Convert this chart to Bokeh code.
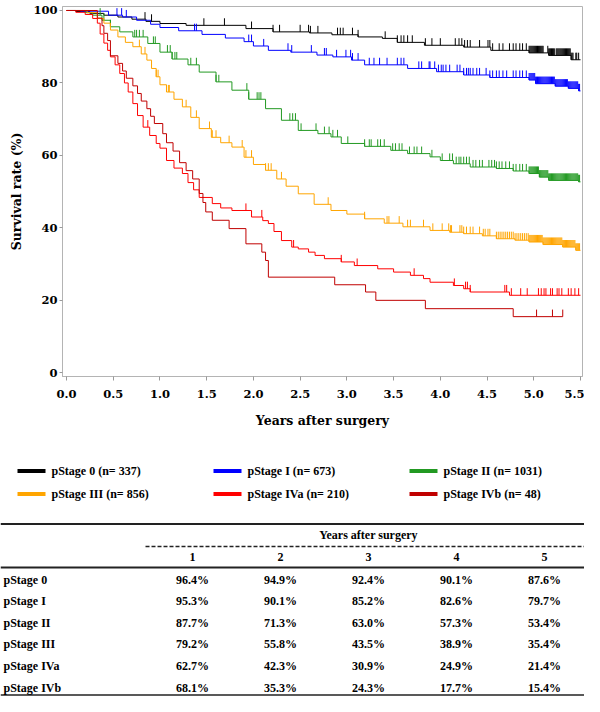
import numpy as np
from bokeh.plotting import figure
from bokeh.models import Range1d, FixedTicker, PrintfTickFormatter
from bokeh.layouts import column
from bokeh.embed import file_html
from bokeh.resources import INLINE
from bokeh.core.properties import value

# ---------------- data ----------------
stages = ["pStage 0", "pStage I", "pStage II", "pStage III", "pStage IVa", "pStage IVb"]
n_patients = [337, 673, 1031, 856, 210, 48]
colors = ["#000000", "#0000FF", "#229922", "#FFA500", "#FF0000", "#C00000"]

# Kaplan-Meier step points (time in years, survival %)
t_s0 = [0.00, 0.10, 0.25, 0.40, 0.55, 0.70, 0.85, 1.00, 1.28, 1.92, 2.21, 2.60, 2.84, 3.12, 3.38, 3.54, 3.83, 4.25, 4.54, 4.95, 5.16, 5.40, 5.50]
s_s0 = [100.0, 99.7, 99.2, 98.7, 98.2, 97.6, 97.0, 96.4, 95.9, 95.0, 94.1, 93.8, 93.3, 92.7, 92.3, 91.2, 90.4, 89.9, 89.0, 88.3, 87.6, 86.4, 86.4]

t_s1 = [0.00, 0.15, 0.45, 0.60, 0.75, 0.90, 1.00, 1.20, 1.45, 1.70, 1.90, 2.00, 2.16, 2.40, 2.68, 2.85, 3.05, 3.19, 3.65, 3.96, 4.25, 4.53, 4.95, 5.02, 5.23, 5.37, 5.48, 5.50]
s_s1 = [100.0, 99.8, 98.7, 98.2, 97.3, 96.2, 95.3, 94.4, 93.4, 92.4, 91.4, 90.2, 89.0, 88.5, 87.7, 87.2, 86.3, 85.0, 84.0, 83.1, 82.2, 81.5, 80.8, 79.8, 79.1, 78.5, 77.8, 77.8]

t_s2 = [0.00, 0.20, 0.28, 0.38, 0.47, 0.57, 0.71, 0.87, 1.00, 1.13, 1.30, 1.42, 1.60, 1.77, 1.95, 2.13, 2.30, 2.48, 2.69, 2.83, 2.94, 3.19, 3.47, 3.65, 3.89, 4.00, 4.14, 4.32, 4.60, 4.78, 4.95, 5.06, 5.16, 5.48, 5.50]
s_s2 = [100.0, 99.4, 98.7, 97.3, 95.5, 94.1, 92.7, 90.9, 88.5, 86.6, 85.0, 83.0, 80.3, 78.0, 75.5, 72.9, 69.7, 66.9, 66.0, 65.1, 63.3, 62.5, 61.4, 60.5, 59.6, 58.6, 57.7, 56.8, 56.4, 55.7, 55.0, 54.0, 53.1, 52.7, 52.7]

t_s3 = [0.00, 0.22, 0.33, 0.40, 0.47, 0.55, 0.63, 0.71, 0.80, 0.86, 0.91, 0.96, 1.00, 1.07, 1.15, 1.24, 1.33, 1.42, 1.55, 1.65, 1.77, 1.90, 2.00, 2.13, 2.25, 2.35, 2.48, 2.65, 2.83, 3.00, 3.19, 3.40, 3.60, 3.89, 4.10, 4.25, 4.45, 4.60, 4.80, 4.95, 5.10, 5.31, 5.45, 5.50]
s_s3 = [100.0, 99.4, 97.8, 96.5, 94.6, 92.7, 91.2, 90.0, 88.0, 86.3, 84.0, 81.7, 79.5, 77.5, 75.5, 73.4, 70.5, 67.4, 65.0, 63.5, 62.3, 59.5, 57.5, 55.9, 53.5, 51.5, 49.4, 46.5, 44.8, 43.8, 42.5, 41.3, 40.3, 39.3, 38.8, 38.4, 37.8, 37.0, 36.6, 36.1, 35.4, 34.7, 33.8, 33.8]

t_s4a = [0.00, 0.10, 0.20, 0.28, 0.33, 0.36, 0.40, 0.44, 0.47, 0.52, 0.57, 0.62, 0.66, 0.71, 0.76, 0.82, 0.89, 0.96, 1.00, 1.07, 1.15, 1.24, 1.30, 1.36, 1.42, 1.56, 1.65, 1.77, 1.98, 2.10, 2.16, 2.22, 2.30, 2.41, 2.48, 2.59, 2.66, 2.76, 2.94, 3.08, 3.33, 3.50, 3.68, 3.82, 3.89, 4.14, 4.25, 4.32, 4.74, 5.50]
s_s4a = [100.0, 99.5, 98.9, 97.8, 96.5, 93.5, 91.0, 89.0, 87.2, 85.0, 82.6, 80.0, 77.5, 74.3, 71.0, 67.8, 65.5, 63.3, 62.0, 58.6, 56.5, 55.0, 52.5, 50.5, 48.4, 46.7, 45.5, 44.8, 43.0, 42.0, 41.2, 39.0, 36.5, 34.7, 34.2, 33.3, 32.4, 31.5, 30.6, 29.6, 28.7, 27.8, 26.9, 26.0, 25.0, 24.1, 23.2, 22.3, 21.4, 21.4]

t_s4b = [0.00, 0.33, 0.38, 0.40, 0.44, 0.47, 0.55, 0.60, 0.64, 0.71, 0.76, 0.80, 0.86, 0.90, 0.94, 1.03, 1.07, 1.14, 1.21, 1.28, 1.35, 1.42, 1.46, 1.49, 1.56, 1.74, 1.92, 2.09, 2.13, 2.16, 2.87, 3.20, 3.31, 3.84, 4.78, 5.31]
s_s4b = [100.0, 97.9, 95.8, 93.7, 91.7, 87.5, 85.4, 83.3, 81.3, 79.2, 77.1, 75.0, 72.9, 70.8, 68.8, 66.0, 63.5, 61.2, 58.0, 55.8, 53.5, 49.5, 47.0, 44.4, 42.1, 39.8, 35.6, 33.3, 31.0, 26.4, 24.3, 22.3, 20.0, 17.7, 15.5, 15.5]

# censoring times (years)
c_s0 = [0.84, 0.91, 1.47, 1.69, 1.98, 2.21, 2.28, 2.50, 2.59, 2.61, 2.69, 2.90, 2.93, 2.96, 3.06, 3.12, 3.41, 3.54, 3.58, 3.61, 3.65, 3.70, 3.84, 3.91, 4.00, 4.16, 4.20, 4.23, 4.26, 4.29, 4.32, 4.42, 4.51, 4.53, 4.56, 4.63, 4.67, 4.74, 4.78, 4.81, 4.85, 4.88, 4.92,
        4.95, 4.96, 4.97, 4.98, 4.99, 5.00, 5.01, 5.02, 5.03, 5.04, 5.05, 5.06, 5.07, 5.08, 5.09, 5.10,
        5.15, 5.16, 5.17, 5.18, 5.19, 5.20, 5.21, 5.22, 5.24, 5.25, 5.26, 5.27, 5.28, 5.29, 5.30, 5.31, 5.32, 5.33, 5.34, 5.35, 5.36, 5.37, 5.38, 5.39, 5.40, 5.41, 5.42, 5.45, 5.46, 5.48]
c_s1 = [0.54, 0.59, 0.64, 1.37, 1.39, 1.95, 1.98, 2.11, 2.37, 2.41, 2.62, 2.76, 2.78, 2.89, 2.99, 3.04, 3.06, 3.12, 3.24, 3.29, 3.35, 3.43, 3.54, 3.58, 3.61, 3.77, 3.80, 3.88, 3.89, 3.94, 3.98, 4.01, 4.03, 4.06, 4.10, 4.18, 4.21, 4.25, 4.28, 4.30, 4.32, 4.35, 4.39, 4.42, 4.49, 4.53, 4.56, 4.60, 4.63, 4.67, 4.71, 4.78, 4.81, 4.85, 4.88, 4.92,
        4.95, 4.96, 4.97, 4.98, 4.99, 5.00, 5.01, 5.02, 5.03, 5.04, 5.05, 5.06, 5.07, 5.08, 5.09, 5.10, 5.11, 5.12, 5.13, 5.14, 5.15, 5.16, 5.17, 5.18, 5.19, 5.20, 5.21, 5.22, 5.23, 5.24, 5.25, 5.26, 5.27, 5.28, 5.29, 5.30, 5.31, 5.32, 5.33, 5.34, 5.35, 5.36, 5.37, 5.38, 5.39, 5.40, 5.41, 5.42, 5.43, 5.44, 5.45, 5.46, 5.47, 5.48, 5.49]
c_s2 = [0.36, 0.40, 0.47, 0.73, 0.75, 0.78, 0.82, 0.93, 0.95, 1.08, 1.11, 1.13, 1.16, 1.18, 1.33, 1.39, 1.60, 1.63, 1.93, 1.95, 2.04, 2.06, 2.08, 2.39, 2.42, 2.45, 2.51, 2.67, 2.76, 2.81, 2.85, 2.90, 3.01, 3.19, 3.24, 3.26, 3.33, 3.36, 3.40, 3.49, 3.52, 3.56, 3.59, 3.67, 3.72, 3.75, 3.80, 3.91, 4.02, 4.10, 4.13, 4.17, 4.20, 4.22, 4.25, 4.28, 4.31, 4.35, 4.38, 4.42, 4.45, 4.52, 4.55, 4.58, 4.60, 4.63, 4.66, 4.70, 4.74, 4.78, 4.81, 4.85, 4.88, 4.92,
        4.95, 4.96, 4.97, 4.98, 4.99, 5.00, 5.01, 5.02, 5.03, 5.04, 5.05, 5.06, 5.07, 5.08, 5.09, 5.10, 5.11, 5.12, 5.13, 5.14, 5.15, 5.16, 5.17, 5.18, 5.19, 5.20, 5.21, 5.22, 5.23, 5.24, 5.25, 5.26, 5.27, 5.28, 5.29, 5.30, 5.31, 5.32, 5.33, 5.34, 5.35, 5.36, 5.37, 5.38, 5.39, 5.40, 5.41, 5.42, 5.43, 5.44, 5.45, 5.46, 5.47, 5.48, 5.49]
c_s3 = [0.78, 0.84, 0.96, 0.98, 1.07, 1.09, 1.10, 1.28, 1.39, 1.53, 1.56, 1.60, 1.74, 1.88, 1.92, 1.98, 2.13, 2.16, 2.19, 2.30, 2.80, 3.19, 3.43, 3.45, 3.56, 3.65, 3.68, 3.82, 3.92, 4.02, 4.09, 4.11, 4.12, 4.21, 4.23, 4.25, 4.28, 4.32, 4.35, 4.42, 4.46, 4.48, 4.51, 4.53,
        4.60, 4.62, 4.64, 4.66, 4.68, 4.70, 4.72, 4.74, 4.76, 4.78, 4.80, 4.82, 4.84, 4.86, 4.88, 4.90, 4.92,
        4.94, 4.95, 4.96, 4.97, 4.98, 4.99, 5.00, 5.01, 5.02, 5.03, 5.04, 5.05, 5.06, 5.07, 5.08, 5.09, 5.10, 5.11, 5.12, 5.13, 5.14, 5.15, 5.16, 5.17, 5.18, 5.19, 5.20, 5.21, 5.22, 5.23, 5.24, 5.25, 5.26, 5.27, 5.28, 5.29, 5.30, 5.31, 5.32, 5.33, 5.34, 5.35, 5.36, 5.37, 5.38, 5.39, 5.40, 5.41, 5.42, 5.43, 5.44, 5.45, 5.46, 5.47, 5.48, 5.49]
c_s4a = [0.87, 1.92, 2.09, 2.43, 2.94, 3.11, 3.72, 4.15, 4.27, 4.29, 4.32, 4.69, 4.71, 4.76, 4.86, 4.93, 5.05, 5.08, 5.11, 5.13, 5.18, 5.20, 5.25, 5.27, 5.30, 5.37, 5.40, 5.44, 5.48]
c_s4b = [5.03, 5.20, 5.31]

curve_times = [t_s0, t_s1, t_s2, t_s3, t_s4a, t_s4b]
curve_surv = [s_s0, s_s1, s_s2, s_s3, s_s4a, s_s4b]
censor_times = [c_s0, c_s1, c_s2, c_s3, c_s4a, c_s4b]

x_ticks = [0.0, 0.5, 1.0, 1.5, 2.0, 2.5, 3.0, 3.5, 4.0, 4.5, 5.0, 5.5]
y_ticks = [0, 20, 40, 60, 80, 100]

# survival table
table_years = ["1", "2", "3", "4", "5"]
pct_s0 = ["96.4%", "94.9%", "92.4%", "90.1%", "87.6%"]
pct_s1 = ["95.3%", "90.1%", "85.2%", "82.6%", "79.7%"]
pct_s2 = ["87.7%", "71.3%", "63.0%", "57.3%", "53.4%"]
pct_s3 = ["79.2%", "55.8%", "43.5%", "38.9%", "35.4%"]
pct_s4a = ["62.7%", "42.3%", "30.9%", "24.9%", "21.4%"]
pct_s4b = ["68.1%", "35.3%", "24.3%", "17.7%", "15.4%"]
table_pct = [pct_s0, pct_s1, pct_s2, pct_s3, pct_s4a, pct_s4b]

# ---------------- plot ----------------
PLOT_FONT = "DejaVu Serif"
TABLE_FONT = "Liberation Serif"

p = figure(width=584, height=436, output_backend="svg", toolbar_location=None,
           x_range=Range1d(-0.0428, 5.5214), y_range=Range1d(-1.02, 101.10),
           min_border_left=62, min_border_right=2, min_border_top=6, min_border_bottom=60)
p.frame_align = False
p.grid.visible = False
p.outline_line_color = "#b4b4b4"
p.outline_line_width = 1

for ax in (p.xaxis[0], p.yaxis[0]):
    ax.axis_line_color = "#b4b4b4"
    ax.major_tick_line_color = "#9a9a9a"
    ax.minor_tick_line_color = None
    ax.major_tick_in = 0
    ax.major_label_text_font = PLOT_FONT
    ax.major_label_text_font_style = "bold"
    ax.major_label_text_font_size = "11.5px"
    ax.major_label_text_color = "#000000"
    ax.axis_label_text_font = PLOT_FONT
    ax.axis_label_text_font_style = "bold"
    ax.axis_label_text_font_size = "12.5px"
    ax.axis_label_text_color = "#000000"

p.xaxis.ticker = FixedTicker(ticks=x_ticks)
p.xaxis.formatter = PrintfTickFormatter(format="%.1f")
p.xaxis.major_tick_out = 4
p.xaxis.major_label_standoff = 9
p.xaxis.axis_label = "Years after surgery"
p.xaxis.axis_label_standoff = 12

p.yaxis.ticker = FixedTicker(ticks=y_ticks)
p.yaxis.major_tick_out = 3
p.yaxis.major_label_standoff = 2
p.yaxis.axis_label = "Survival rate (%)"
p.yaxis.axis_label_standoff = 6

TICK_H = 1.95  # censor mark height in data units
for t, s, c, col in zip(curve_times, curve_surv, censor_times, colors):
    t = np.asarray(t)
    s = np.asarray(s)
    p.step(t, s, mode="after", line_color=col, line_width=1)
    c = np.asarray(c)
    idx = np.clip(np.searchsorted(t, c, side="right") - 1, 0, len(s) - 1)
    cy = s[idx]
    p.segment(x0=c, y0=cy, x1=c, y1=cy + TICK_H, line_color=col, line_width=1)

# ---------------- legend + table (picture coordinates) ----------------
q = figure(width=584, height=260, output_backend="svg", toolbar_location=None,
           x_range=Range1d(0, 584), y_range=Range1d(696, 436),
           x_axis_type=None, y_axis_type=None, min_border=0)
q.frame_align = False
q.grid.visible = False
q.outline_line_color = None

leg_x = [17, 213, 409]
leg_y = [470.5, 493.5]
for i, (name, n, col) in enumerate(zip(stages, n_patients, colors)):
    r, cidx = divmod(i, 3)
    x0 = leg_x[cidx]
    y0 = leg_y[r]
    q.segment(x0=[x0], y0=[y0], x1=[x0 + 28], y1=[y0], line_color=col, line_width=4)
    q.text(x=[x0 + 34], y=[y0], text=[f"{name} (n= {n})"], text_font=value(TABLE_FONT),
           text_font_style="bold", text_font_size="12px", text_baseline="middle",
           text_align="left", text_color="#000000")

# table rules
q.segment(x0=[0], y0=[523.5], x1=[584], y1=[523.5], line_color="#222222", line_width=2)
q.segment(x0=[145], y0=[546.0], x1=[584], y1=[546.0], line_color="#222222", line_width=1.5,
          line_dash="4 2")
q.segment(x0=[0], y0=[567.0], x1=[584], y1=[567.0], line_color="#222222", line_width=2)
q.segment(x0=[0], y0=[694.5], x1=[584], y1=[694.5], line_color="#222222", line_width=1.5)

col_x = [192, 280, 368, 456, 544]
q.text(x=[368], y=[534.5], text=["Years after surgery"], text_font=value(TABLE_FONT),
       text_font_style="bold", text_font_size="12px", text_baseline="middle",
       text_align="center", text_color="#000000")
q.text(x=col_x, y=[556.5] * 5, text=table_years, text_font=value(TABLE_FONT),
       text_font_style="bold", text_font_size="12px", text_baseline="middle",
       text_align="center", text_color="#000000")

row_y = [579.0 + 21.6 * k for k in range(len(stages))]
q.text(x=[3] * len(stages), y=row_y, text=stages, text_font=value(TABLE_FONT),
       text_font_style="bold", text_font_size="12px", text_baseline="middle",
       text_align="left", text_color="#000000")
for yy, vals in zip(row_y, table_pct):
    q.text(x=col_x, y=[yy] * 5, text=vals, text_font=value(TABLE_FONT),
           text_font_style="bold", text_font_size="12px", text_baseline="middle",
           text_align="center", text_color="#000000")

layout = column(p, q, spacing=0)
open("out.html", "w").write(file_html(layout, INLINE))
